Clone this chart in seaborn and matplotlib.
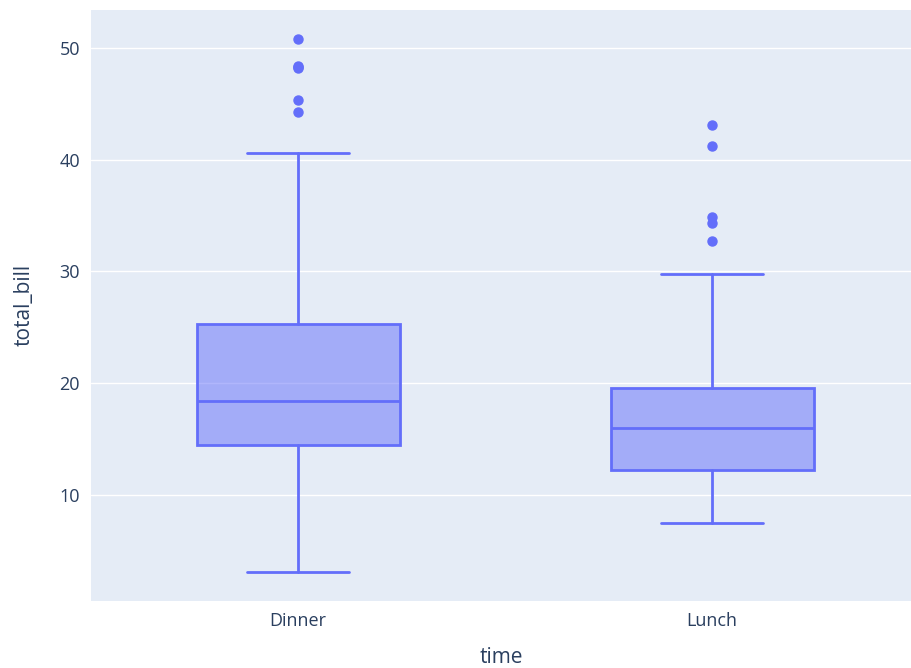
import matplotlib
matplotlib.use("Agg")
import matplotlib.pyplot as plt
import seaborn as sns

# summary stats of total_bill by time
categories = ["Dinner", "Lunch"]
q1_vals = [14.44, 12.24]
median_vals = [18.39, 15.97]
q3_vals = [25.28, 19.53]
whisker_lo = [3.07, 7.51]
whisker_hi = [40.55, 29.80]
outliers = [
    [44.30, 45.35, 48.17, 48.27, 48.33, 50.81],
    [32.68, 34.30, 34.83, 41.19, 43.11],
]

box_color = "#636EFA"
text_color = "#2a3f5f"

sns.set_theme(style="darkgrid", rc={
    "axes.facecolor": "#E5ECF6",
    "grid.color": "white",
    "grid.linewidth": 1.0,
    "axes.edgecolor": "#E5ECF6",
})
plt.rcParams["font.family"] = ["Open Sans", "DejaVu Sans"]

stats = []
for i, cat in enumerate(categories):
    stats.append({
        "label": cat,
        "q1": q1_vals[i],
        "med": median_vals[i],
        "q3": q3_vals[i],
        "whislo": whisker_lo[i],
        "whishi": whisker_hi[i],
        "fliers": outliers[i],
    })

fig = plt.figure(figsize=(9.12, 6.68), dpi=100)
ax = fig.add_axes([0.0998, 0.1003, 0.899, 0.885])

ax.bxp(
    stats, positions=[0, 1], widths=0.49, patch_artist=True,
    boxprops=dict(facecolor=(0.388, 0.431, 0.98, 0.5), edgecolor=box_color, linewidth=2),
    medianprops=dict(color=box_color, linewidth=2),
    whiskerprops=dict(color=box_color, linewidth=2),
    capprops=dict(color=box_color, linewidth=2),
    capwidths=0.245,
    flierprops=dict(marker="o", markerfacecolor=box_color, markeredgecolor=box_color,
                    markersize=6.5, linestyle="none"),
)

ax.set_xlim(-0.5, 1.48)
ax.set_ylim(0.51, 53.4)
ax.set_yticks([10, 20, 30, 40, 50])
ax.grid(axis="x", visible=False)
ax.grid(axis="y", visible=True)
ax.tick_params(axis="both", length=0, labelsize=13, labelcolor=text_color, pad=8)
ax.set_xticks([0, 1])
ax.set_xticklabels(categories)
ax.set_xlabel("time", fontsize=15, color=text_color, labelpad=12)
ax.set_ylabel("total_bill", fontsize=15, color=text_color, labelpad=18)
for s in ax.spines.values():
    s.set_visible(False)

fig.savefig("out.png", dpi=100)
